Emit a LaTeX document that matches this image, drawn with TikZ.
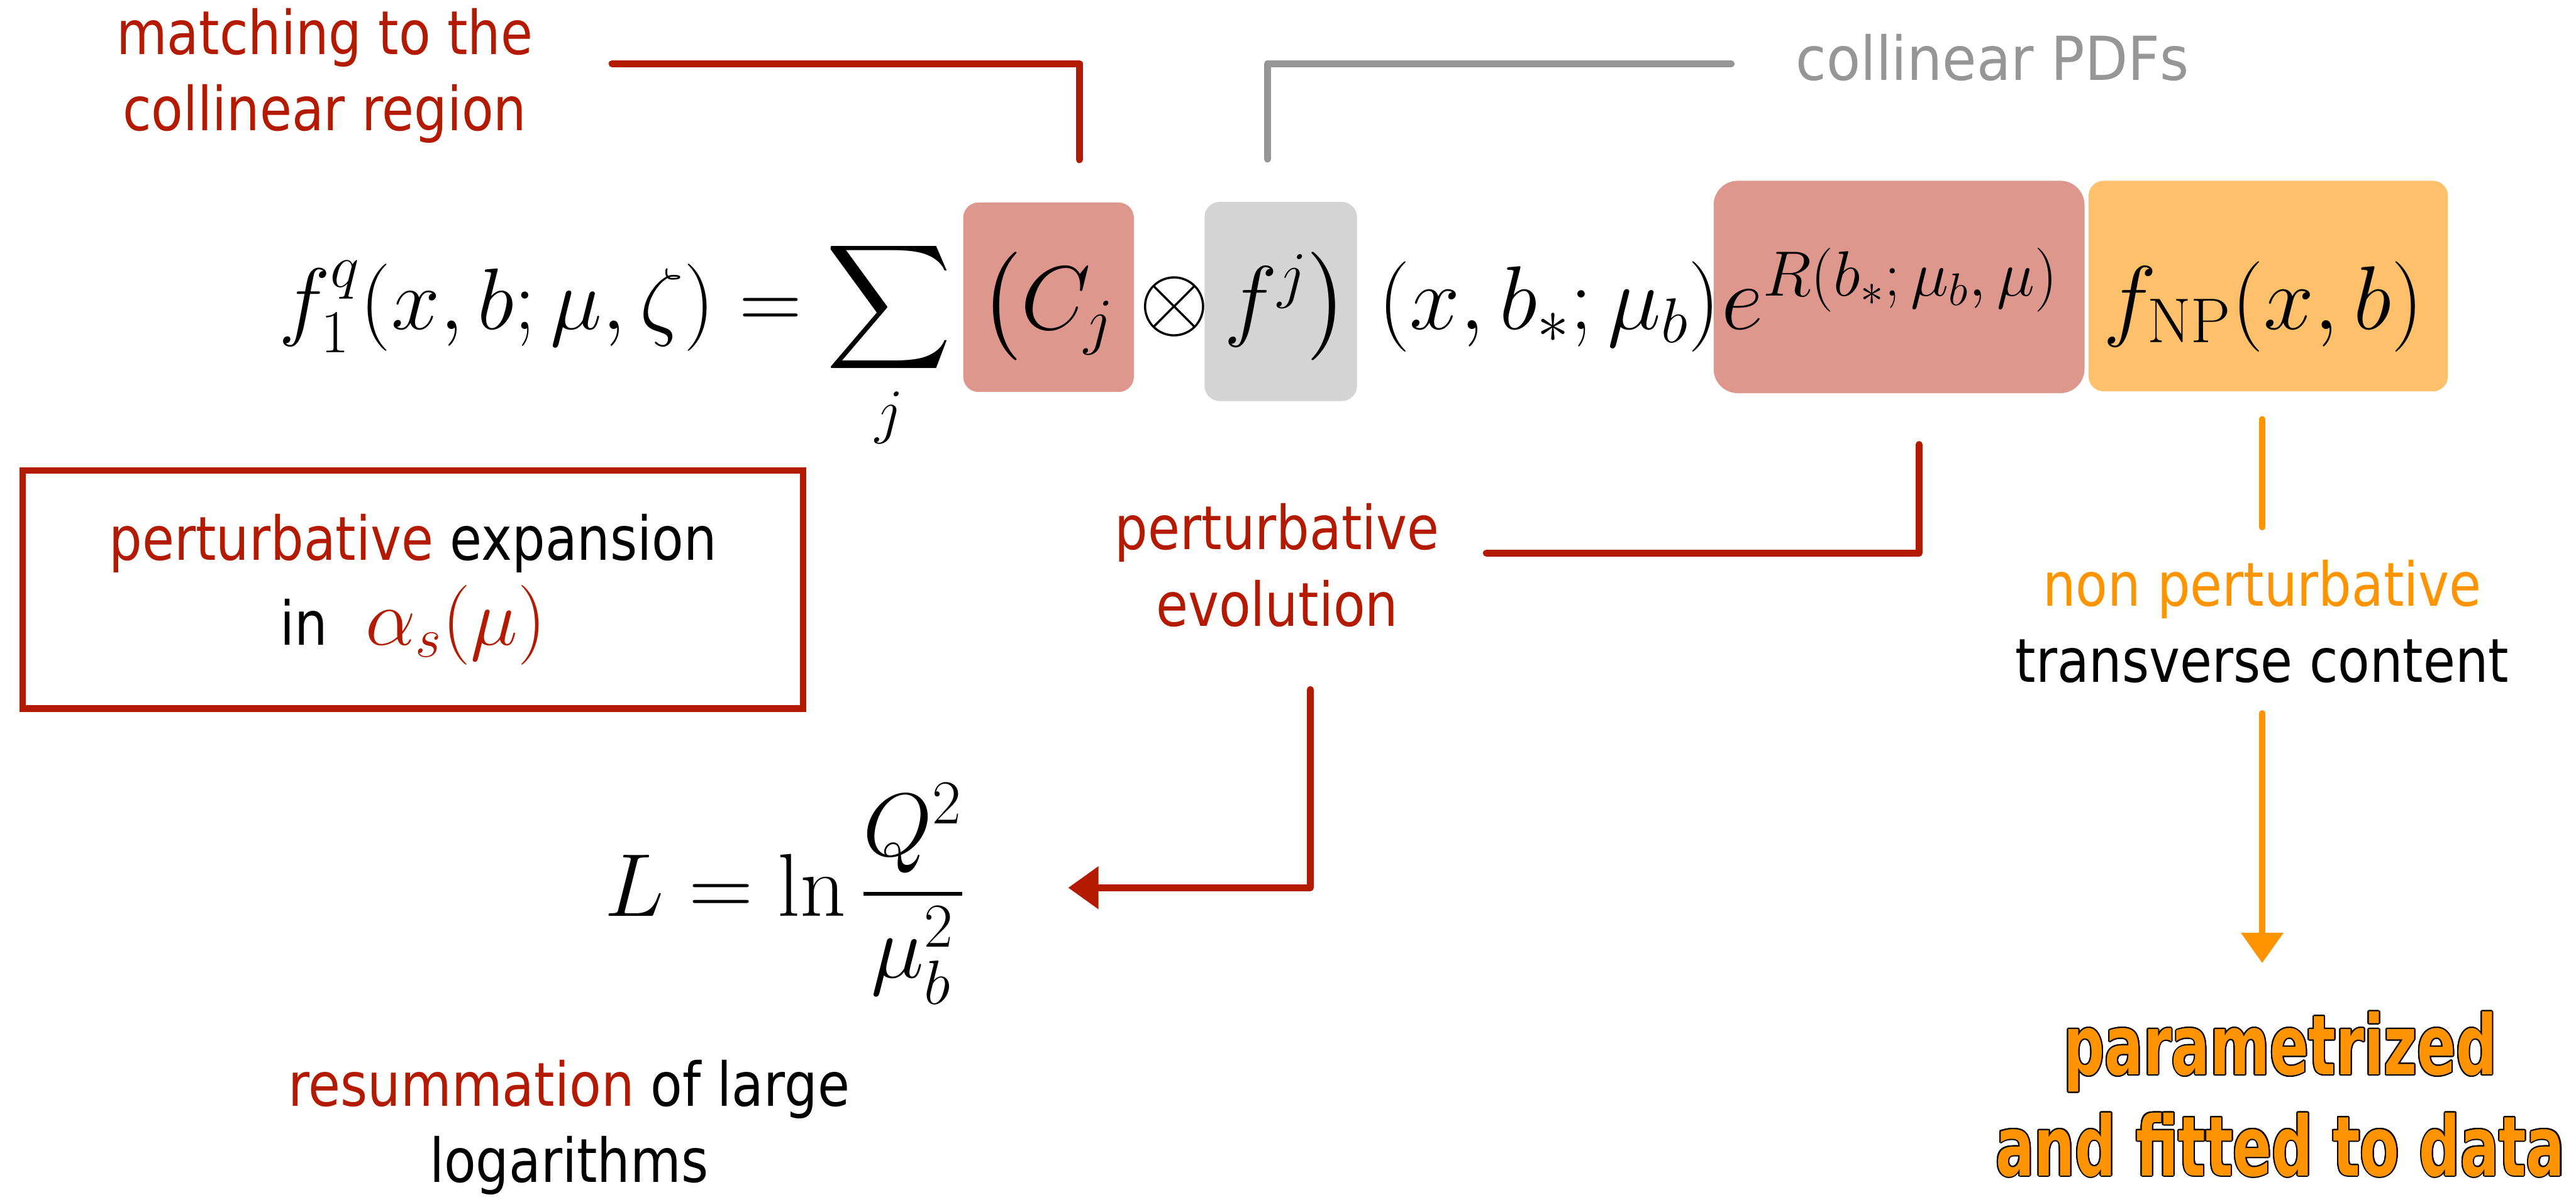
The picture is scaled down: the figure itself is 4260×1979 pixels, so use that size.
\RequirePackage{fix-cm}
\documentclass[tikz,border=0pt]{standalone}
\usepackage{amsmath}
\usepackage{amssymb}
\usepackage{fontspec}
\usepackage[copies]{contour}
\usetikzlibrary{arrows.meta}

\newfontfamily\lblfont[FakeStretch=0.86]{DejaVu Sans}
\newfontfamily\pdflblfont[FakeStretch=0.92]{DejaVu Sans}
\newfontfamily\fitfont[FakeStretch=0.69]{DejaVu Sans Bold}

\definecolor{pertred}{RGB}{180,26,0}
\definecolor{pdfgray}{RGB}{150,150,150}
\definecolor{nporange}{RGB}{255,148,0}
\definecolor{boxred}{RGB}{221,151,141}
\definecolor{boxgray}{RGB}{212,212,212}
\definecolor{boxorange}{RGB}{254,192,106}
\contourlength{0.6pt}

\begin{document}
\begin{tikzpicture}[x=0.01cm,y=-0.01cm]
    % Define styles
    \tikzstyle{lbltext} = [inner sep=0, align=center, font=\lblfont\fontsize{28.5}{35.85}\selectfont]
    \tikzstyle{hlbox} = [rounded corners=0.25cm, inner sep=0]
    \tikzstyle{mathpart} = [anchor=base west, inner sep=0, font=\fontsize{42.5}{51}\selectfont]
    \tikzstyle{redline} = [draw=pertred, line width=3.2pt, line cap=round, line join=round]
    \tikzstyle{grayline} = [draw=pdfgray, line width=3.2pt, line cap=round, line join=round]
    \tikzstyle{orgline} = [draw=nporange, line width=2.8pt, line cap=round]
    \tikzstyle{redarrow} = [redline, -{Triangle[length=0.5cm,width=0.68cm]}]
    \tikzstyle{orgarrow} = [orgline, -{Triangle[length=0.5cm,width=0.68cm]}]
    \tikzstyle{exbox} = [lbltext, draw=pertred, line width=3pt, minimum width=12.9cm, minimum height=3.93cm]

    \useasboundingbox (0,0) rectangle (4260,1979);

    % Highlight boxes
    \node[hlbox, fill=boxred, minimum width=2.82cm, minimum height=3.13cm] (cjbox) at (1734,491.5) {};
    \node[hlbox, fill=boxgray, minimum width=2.52cm, minimum height=3.29cm] (fjbox) at (2118,498.5) {};
    \node[hlbox, fill=boxred, rounded corners=0.4cm, minimum width=6.13cm, minimum height=3.51cm] (rbox) at (3140.5,474.5) {};
    \node[hlbox, fill=boxorange, minimum width=5.94cm, minimum height=3.48cm] (npbox) at (3751,473) {};

    % Formula
    \node[mathpart, font=\fontsize{41}{49}\selectfont] (lhs) at (461,544) {$\displaystyle f_1^q(x,b;\mu,\zeta) = \sum_j$};
    \node[mathpart] (cj) at (1619,544) {$\bigl(C_j$};
    \node[mathpart] (otimes) at (1883,544) {$\otimes$};
    \node[mathpart] (fj) at (2024,544) {$f^j\bigr)$};
    \node[mathpart] (args) at (2278,544) {$(x,b_*;\mu_b)$};
    \node[mathpart, font=\fontsize{43}{52}\selectfont] (expo) at (2846,544) {$e^{R(b_*;\,\mu_b,\,\mu)}$};
    \node[mathpart] (fnp) at (3478,544) {$f_{\mathrm{NP}}(x,b)$};
    \node[mathpart, font=\fontsize{42}{50}\selectfont] (lform) at (999,1515) {$\displaystyle L = \ln\frac{Q^2}{\mu_b^2}$};

    % Labels
    \node[lbltext, text=pertred, anchor=north] (match) at (537,13) {matching to the\\collinear region};
    \node[lbltext, font=\pdflblfont\fontsize{28.5}{35.85}\selectfont, text=pdfgray, anchor=base west] (pdfs) at (2969,133) {collinear PDFs};
    \node[exbox] (pexp) at (683,975) {\textcolor{pertred}{perturbative} expansion\\[4pt]in\hspace{18pt}{\color{pertred}\fontsize{37.5}{45}\selectfont$\alpha_s(\mu)$}};
    \node[lbltext, text=pertred, anchor=north] (pevol) at (2112,832) {perturbative\\evolution};
    \node[lbltext, anchor=north] (nonpert) at (3741,925) {\textcolor{nporange}{non perturbative}\\transverse content};
    \node[lbltext, anchor=north] (resum) at (941,1752) {\textcolor{pertred}{resummation} of large\\logarithms};
    \node[inner sep=0, align=center, anchor=north, text=nporange, font=\fitfont\fontsize{39}{47.5}\selectfont] (fit) at (3771,1672) {\contour{black}{parametrized}\\\contour{black}{and fitted to data}};

    % Connections
    \draw[redline] ([xshift=1.3cm,yshift=0.2cm]match.east) -| ([xshift=0.51cm,yshift=0.7cm]cjbox.north);
    \draw[grayline] ([xshift=-1.06cm,yshift=-0.1cm]pdfs.west) -| ([xshift=-0.22cm,yshift=0.7cm]fjbox.north);
    \draw[redline] ([xshift=0.33cm,yshift=-0.84cm]rbox.south) |- ([xshift=0.77cm,yshift=0.2cm]pevol.east);
    \draw[orgline] ([yshift=0.53cm]nonpert.north) -- ([yshift=2.32cm]nonpert.north);
    \draw[redarrow] ([xshift=0.55cm,yshift=-1.03cm]pevol.south) |- ([xshift=1.7cm,yshift=0.1cm]lform.east);
    \draw[orgarrow] ([yshift=-0.49cm]nonpert.south) -- ([yshift=-4.62cm]nonpert.south);
\end{tikzpicture}
\end{document}
